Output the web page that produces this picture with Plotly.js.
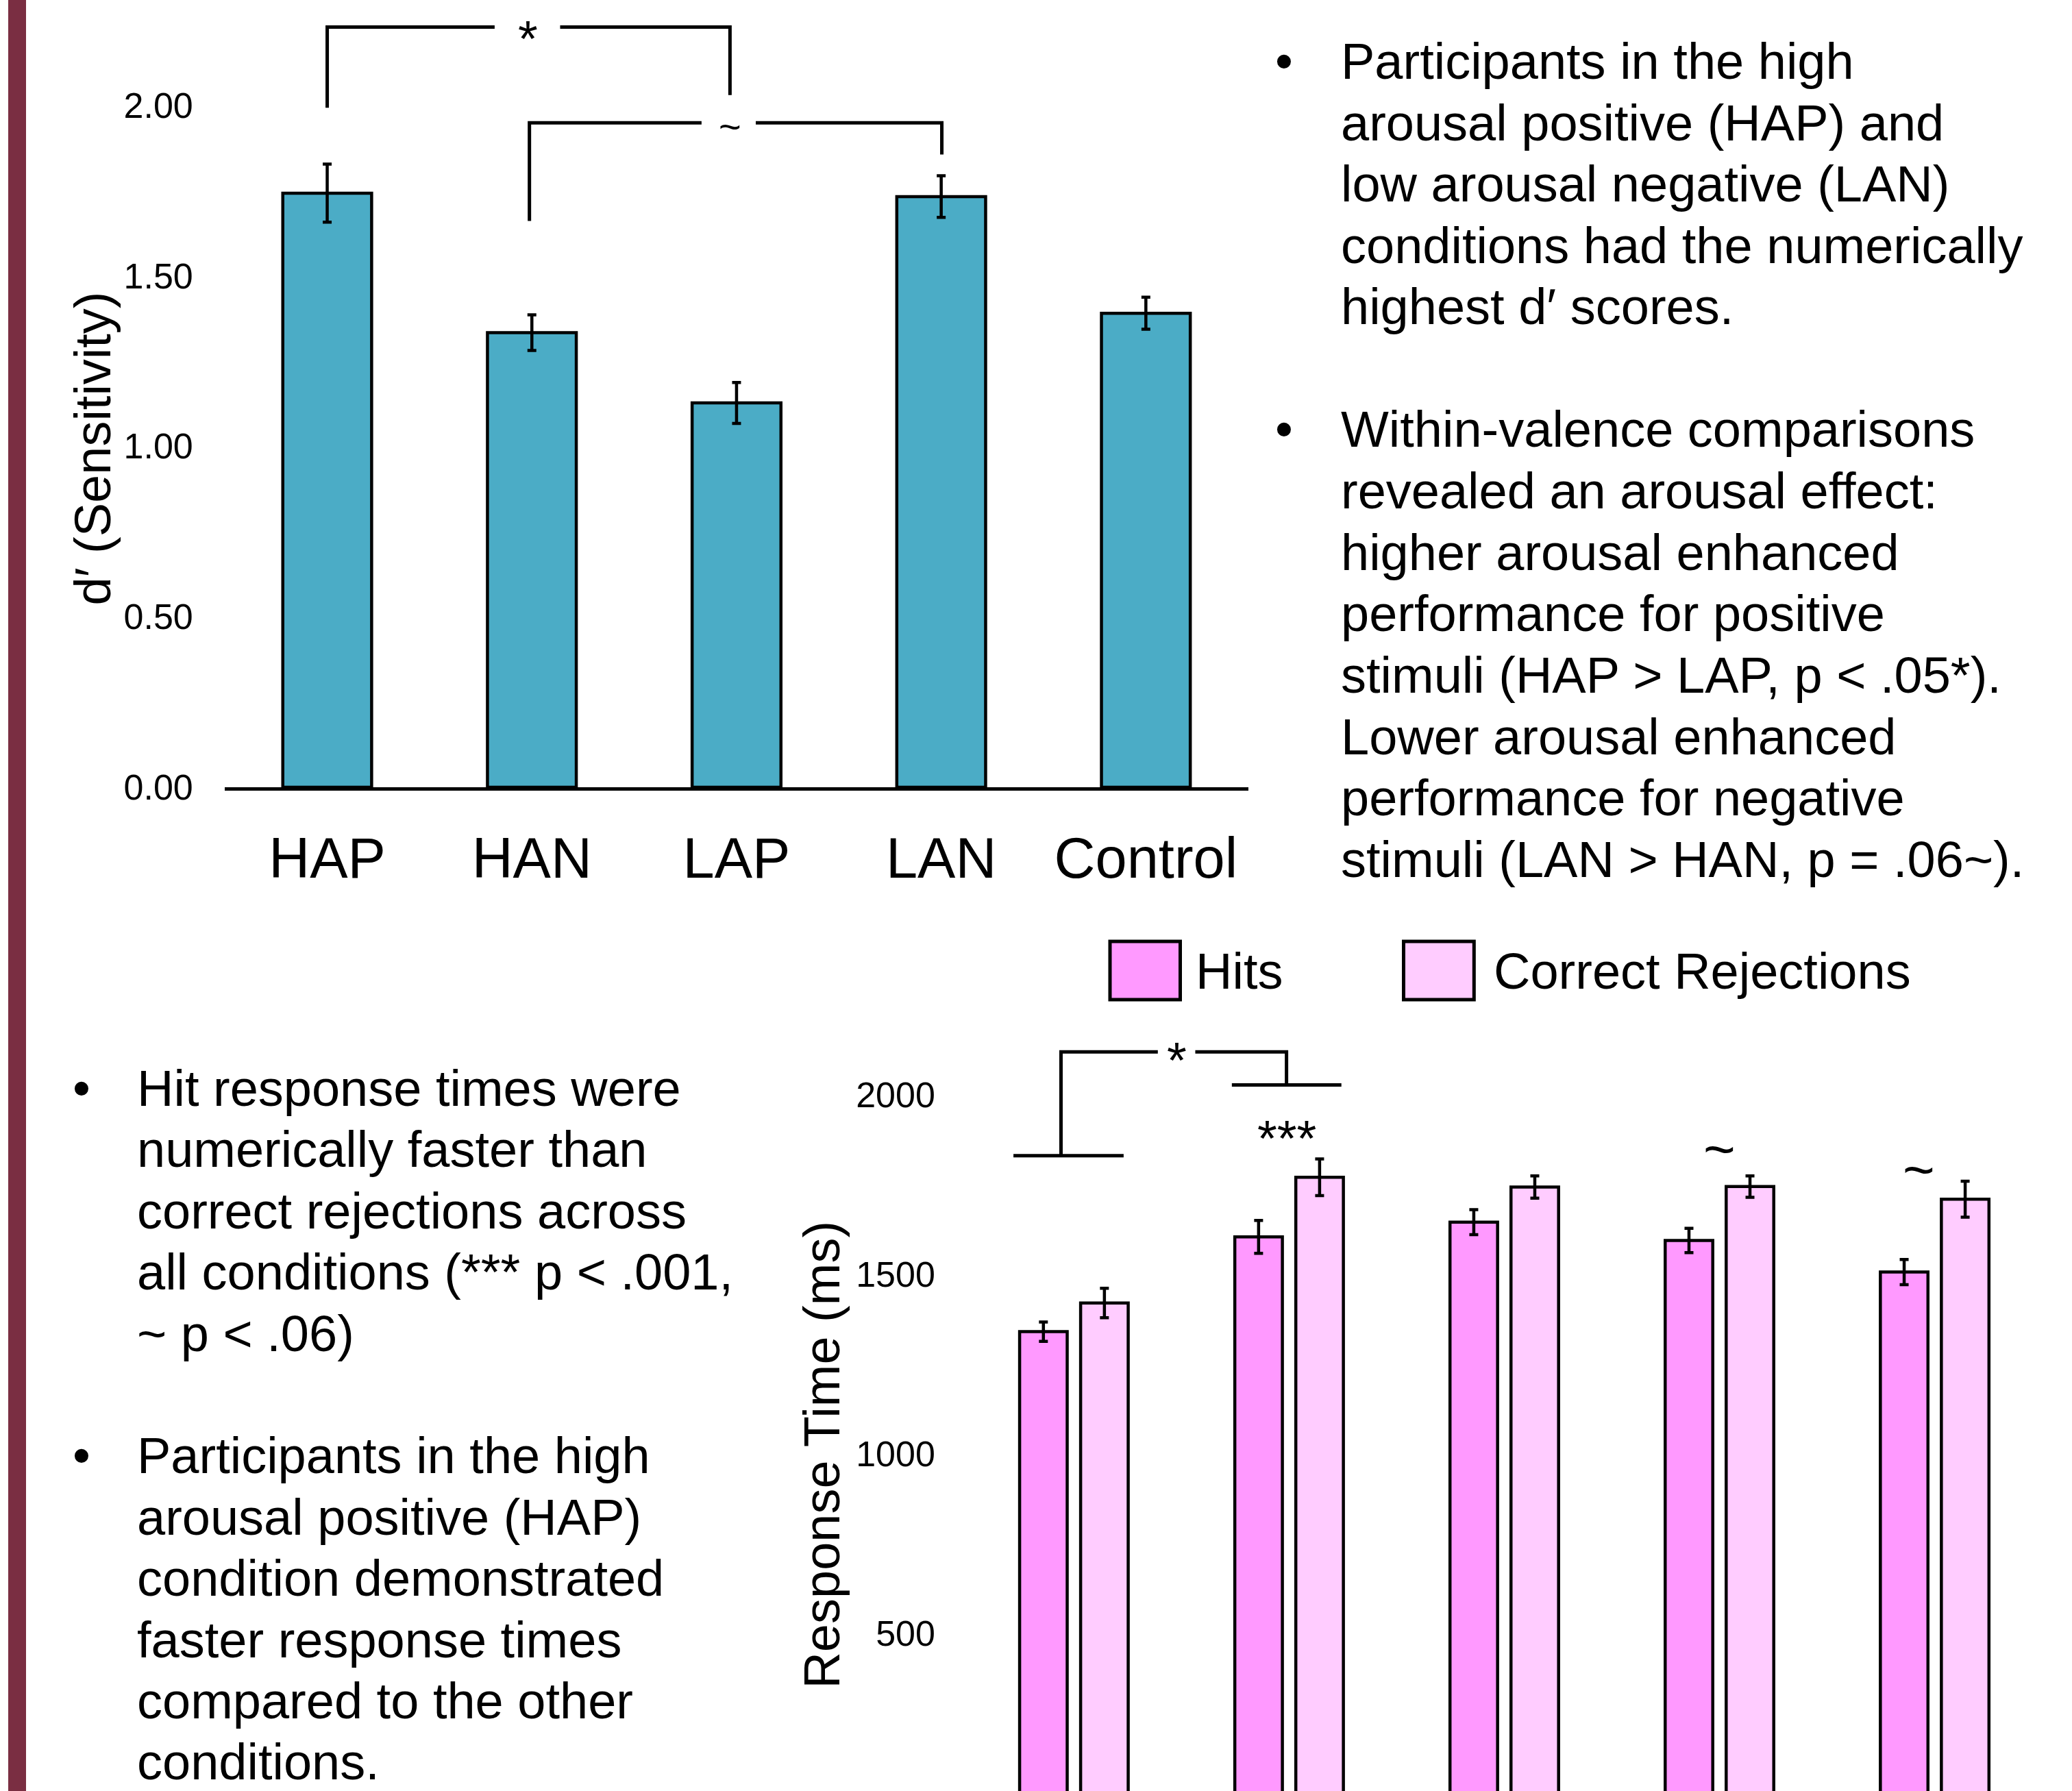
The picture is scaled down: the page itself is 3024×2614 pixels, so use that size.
<!DOCTYPE html>
<html><head><meta charset="utf-8">
<script src="https://cdn.plot.ly/plotly-3.0.1.min.js"></script>
<style>html,body{margin:0;padding:0;background:#fff}#chart{width:3024px;height:2614px}</style>
</head><body><div id="chart"></div>
<script>
// ---------- data ----------
const conditions = ["HAP", "HAN", "LAP", "LAN", "Control"];
const dPrime = [1.742, 1.333, 1.127, 1.732, 1.390];
const dPrimeErr = [0.085, 0.052, 0.060, 0.061, 0.047];
const dTicks = [0, 0.5, 1, 1.5, 2];

const seriesNames = ["Hits", "Correct Rejections"];
const hitsRT = [1340, 1604, 1645, 1594, 1506];
const hitsRTErr = [27, 46, 35, 34, 35];
const crRT = [1420, 1770, 1743, 1744, 1709];
const crRTErr = [41, 51, 31, 30, 50];
const rtTicks = [500, 1000, 1500, 2000];

const yTitleTop = "d\u2032 (Sensitivity)";
const yTitleBottom = "Response Time (ms)";

const textTopRight = [
  ["Participants in the high", "arousal positive (HAP) and", "low arousal negative (LAN)",
   "conditions had the numerically", "highest d\u2032 scores."],
  ["Within-valence comparisons", "revealed an arousal effect:", "higher arousal enhanced",
   "performance for positive", "stimuli (HAP &gt; LAP, p &lt; .05*).", "Lower arousal enhanced",
   "performance for negative", "stimuli (LAN &gt; HAN, p = .06~)."]
];
const textBottomLeft = [
  ["Hit response times were", "numerically faster than", "correct rejections across",
   "all conditions (*** p &lt; .001,", "~ p &lt; .06)"],
  ["Participants in the high", "arousal positive (HAP)", "condition demonstrated",
   "faster response times", "compared to the other", "conditions."]
];

// ---------- helpers (pixel -> paper) ----------
const W = 3024, H = 2614;
const X = p => p / W;
const Y = p => 1 - p / H;
const FONT = "Liberation Sans, Arial, sans-serif";
const idx = conditions.map((_, i) => i);

// top chart scale: 0 at 1149px, 497.75 px per unit
const topRange = [0, 1149 / 497.75];
// bottom chart scale: 0 at 2645.9px, 0.5241 px per ms
const botRange = [(2645.9 - 2614) / 0.5241, (2645.9 - 1480) / 0.5241];

const traces = [
  {
    type: "bar", name: "d\u2032", x: idx, y: dPrime, xaxis: "x", yaxis: "y",
    width: 0.434,
    marker: { color: "#4BACC6", line: { color: "#000", width: 4.5 } },
    error_y: { type: "data", array: dPrimeErr, visible: true, color: "#000", thickness: 4.5, width: 6.5 },
    hoverinfo: "skip"
  },
  {
    type: "bar", name: seriesNames[0], x: idx, y: hitsRT, xaxis: "x2", yaxis: "y2",
    marker: { color: "#FF99FF", line: { color: "#000", width: 4.5 } },
    error_y: { type: "data", array: hitsRTErr, visible: true, color: "#000", thickness: 4.5, width: 6.5 },
    hoverinfo: "skip"
  },
  {
    type: "bar", name: seriesNames[1], x: idx, y: crRT, xaxis: "x2", yaxis: "y2",
    marker: { color: "#FFCCFF", line: { color: "#000", width: 4.5 } },
    error_y: { type: "data", array: crRTErr, visible: true, color: "#000", thickness: 4.5, width: 6.5 },
    hoverinfo: "skip"
  }
];

const shapes = [
  // maroon side stripe
  { type: "rect", xref: "paper", yref: "paper", x0: X(12), x1: X(38), y0: 0, y1: 1,
    fillcolor: "#7A2E42", line: { width: 0 }, layer: "below" },
  // legend swatches
  { type: "rect", xref: "paper", yref: "paper", x0: X(1620), x1: X(1722.5), y0: Y(1459), y1: Y(1374),
    fillcolor: "#FF99FF", line: { color: "#000", width: 5 } },
  { type: "rect", xref: "paper", yref: "paper", x0: X(2048.5), x1: X(2151.3), y0: Y(1459), y1: Y(1374),
    fillcolor: "#FFCCFF", line: { color: "#000", width: 5 } },
  // top chart brackets
  { type: "path", xref: "x", yref: "y", path: "M0,1.9924L0,2.229L0.818,2.229", line: { color: "#000", width: 5 } },
  { type: "path", xref: "x", yref: "y", path: "M1.138,2.229L1.968,2.229L1.968,2.0294", line: { color: "#000", width: 5 } },
  { type: "path", xref: "x", yref: "y", path: "M0.988,1.6607L0.988,1.9482L1.829,1.9482", line: { color: "#000", width: 5 } },
  { type: "path", xref: "x", yref: "y", path: "M2.094,1.9482L3.003,1.9482L3.003,1.8551", line: { color: "#000", width: 5 } },
  // bottom chart bracket
  { type: "path", xref: "x2", yref: "y2", path: "M-0.281,1830L0.231,1830", line: { color: "#000", width: 5 } },
  { type: "path", xref: "x2", yref: "y2", path: "M-0.060,1830L-0.060,2119.3L0.390,2119.3", line: { color: "#000", width: 5 } },
  { type: "path", xref: "x2", yref: "y2", path: "M0.564,2119.3L0.988,2119.3L0.988,2027", line: { color: "#000", width: 5 } },
  { type: "path", xref: "x2", yref: "y2", path: "M0.734,2027L1.243,2027", line: { color: "#000", width: 5 } }
];

const annotations = [];
function addLine(text, xPix, baseline, anchor) {
  annotations.push({
    xref: "paper", yref: "paper", x: X(xPix), y: Y(baseline - 25.6),
    xanchor: anchor || "left", yanchor: "middle", text: text, showarrow: false,
    font: { family: FONT, size: 74, color: "#000" }, borderpad: 0, borderwidth: 0
  });
}
function addBlock(paras, bulletX, textX, base0, step) {
  let li = 0;
  paras.forEach((lines, p) => {
    addLine("\u2022", bulletX, base0 + li * step, "center");
    lines.forEach(t => { addLine(t, textX, base0 + li * step); li++; });
    li++; // blank line between bullets
  });
}
addBlock(textTopRight, 1874, 1957, 115, 89.6);
addBlock(textBottomLeft, 119, 200, 1614, 89.4);

// legend labels
addLine(seriesNames[0], 1745, 1443.3);
addLine(seriesNames[1], 2180, 1443.3);

// axis titles (rotated)
annotations.push({ xref: "paper", yref: "paper", x: X(135), y: Y(654.5), xanchor: "center", yanchor: "middle",
  text: yTitleTop, textangle: -90, showarrow: false, font: { family: FONT, size: 74, color: "#000" } });
annotations.push({ xref: "paper", yref: "paper", x: X(1200), y: Y(2123.6), xanchor: "center", yanchor: "middle",
  text: yTitleBottom, textangle: -90, showarrow: false, font: { family: FONT, size: 74, color: "#000" } });

// significance marks
function sig(text, xref, yref, x, y, size, shift) {
  annotations.push({ xref: xref, yref: yref, x: x, y: y, text: text, showarrow: false,
    xanchor: "center", yanchor: "middle", yshift: shift || 0, borderpad: 0,
    font: { family: FONT, size: size, color: "#000" } });
}
sig("*", "x", "y", 0.980, 2.229, 74, -17);
sig("~", "x", "y", 1.967, 1.9387, 56, 0);
sig("*", "x2", "y2", 0.479, 2129, 74, -17);
sig("***", "x2", "y2", 0.990, 1911.6, 74, -17);
sig("~", "x2", "y2", 3.001, 1846.8, 80, 0);
sig("~", "x2", "y2", 3.925, 1791.4, 80, 0);

const layout = {
  width: W, height: H,
  margin: { l: 0, r: 0, t: 0, b: 0, pad: 0 },
  paper_bgcolor: "#fff", plot_bgcolor: "rgba(0,0,0,0)",
  font: { family: FONT, color: "#000" },
  showlegend: false,
  barmode: "group", bargap: 0.433, bargroupgap: 0.22,
  xaxis: {
    domain: [X(328.2), X(1821.7)], range: [-0.5, 4.5], anchor: "y",
    tickvals: idx, ticktext: conditions, tickfont: { size: 83, family: FONT, color: "#000" },
    ticks: "outside", ticklen: 27, tickcolor: "rgba(0,0,0,0)",
    showline: true, linecolor: "#000", linewidth: 5, showgrid: false, zeroline: false, fixedrange: true
  },
  yaxis: {
    domain: [Y(1149), 1], range: topRange, anchor: "x",
    tickvals: dTicks, ticktext: dTicks.map(v => v.toFixed(2)), tickfont: { size: 52, family: FONT, color: "#000" },
    ticks: "outside", ticklen: 35, tickcolor: "rgba(0,0,0,0)",
    showline: false, showgrid: false, zeroline: false, fixedrange: true
  },
  xaxis2: {
    domain: [X(1410.3), X(2980.6)], range: [-0.5, 4.5], anchor: "y2",
    tickvals: idx, ticktext: conditions, showticklabels: false, ticks: "",
    showline: false, showgrid: false, zeroline: false, fixedrange: true
  },
  yaxis2: {
    domain: [0, Y(1480)], range: botRange, anchor: "x2",
    tickvals: rtTicks, ticktext: rtTicks.map(String), tickfont: { size: 52, family: FONT, color: "#000" },
    ticks: "outside", ticklen: 34, tickcolor: "rgba(0,0,0,0)",
    showline: false, showgrid: false, zeroline: false, fixedrange: true
  },
  shapes: shapes,
  annotations: annotations
};

Plotly.newPlot("chart", traces, layout, { displayModeBar: false, staticPlot: true });
</script>
</body></html>
